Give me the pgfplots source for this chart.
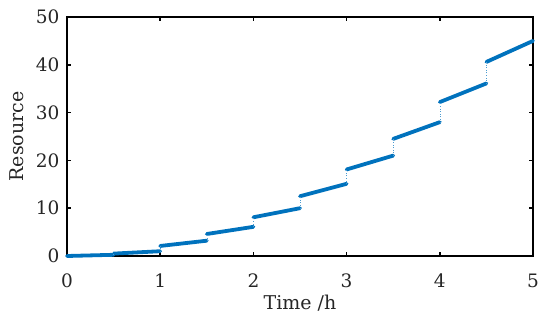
\documentclass[border=0pt]{standalone}
\usepackage{pgfplots}
\pgfplotsset{compat=1.18}
\usepackage{fontspec}
\setmainfont{DejaVu Serif}
\definecolor{mblue}{RGB}{0,114,189}
\begin{document}
\begin{tikzpicture}
\begin{axis}[
  scale only axis,
  width=466pt, height=239pt,
  xmin=0, xmax=5, ymin=0, ymax=50,
  xtick={0,1,2,3,4,5}, ytick={0,10,20,30,40,50},
  tick align=inside,
  major tick length=4pt,
  axis line style={line width=1.6pt},
  every tick/.style={black, line width=1.6pt},
  tick label style={font=\fontsize{18.5}{20}\selectfont, text=black!85},
  xticklabel style={yshift=-14pt},
  yticklabel style={xshift=-4pt},
  /pgf/number format/assume math mode=true,
  xlabel={Time /h},
  ylabel={Resource},
  label style={font=\fontsize{19}{21}\selectfont, text=black!85},
  xlabel style={at={(axis description cs:0.5,0)}, anchor=center, yshift=-47pt},
  ylabel style={at={(axis description cs:0,0.5)}, anchor=center, yshift=50pt},
  unbounded coords=jump,
  clip=false,
]
\addplot[mblue, line width=3.8pt, line cap=round] coordinates {
 (0,0) (0.5,0.25) (0.5,nan)
 (0.5,0.5) (1,1.0) (1,nan)
 (1,2.1) (1.5,3.2) (1.5,nan)
 (1.5,4.6) (2,6.1) (2,nan)
 (2,8.1) (2.5,10.0) (2.5,nan)
 (2.5,12.5) (3,15.1) (3,nan)
 (3,18.1) (3.5,21.0) (3.5,nan)
 (3.5,24.5) (4,28.0) (4,nan)
 (4,32.2) (4.5,36.1) (4.5,nan)
 (4.5,40.6) (5,45.0)
};
\addplot[mblue!70, line width=0.6pt, dotted] coordinates {
 (0.5,0.25) (0.5,0.5) (0.5,nan)
 (1,1.0) (1,2.1) (1,nan)
 (1.5,3.2) (1.5,4.6) (1.5,nan)
 (2,6.1) (2,8.1) (2,nan)
 (2.5,10.0) (2.5,12.5) (2.5,nan)
 (3,15.1) (3,18.1) (3,nan)
 (3.5,21.0) (3.5,24.5) (3.5,nan)
 (4,28.0) (4,32.2) (4,nan)
 (4.5,36.1) (4.5,40.6)
};
\end{axis}
\pgfresetboundingbox
\useasboundingbox ([shift={(-67pt,-69pt)}]current axis.south west) rectangle ([shift={(17pt,17pt)}]current axis.north east);
\end{tikzpicture}
\end{document}
